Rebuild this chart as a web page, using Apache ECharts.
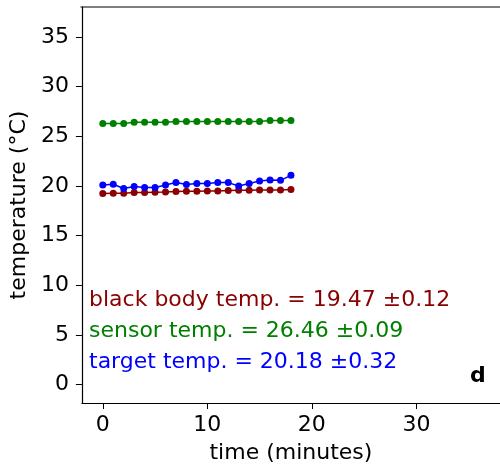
<!DOCTYPE html>
<html>
<head>
<meta charset="utf-8">
<script src="https://cdn.jsdelivr.net/npm/echarts@6/dist/echarts.min.js"></script>
<style>html,body{margin:0;padding:0;background:#fff}#c{width:500px;height:469px}</style>
</head>
<body>
<div id="c"></div>
<script>
var timeMinutes = [0,1,2,3,4,5,6,7,8,9,10,11,12,13,14,15,16,17,18];
var blackBodyTemp = [19.23,19.26,19.26,19.33,19.33,19.36,19.39,19.43,19.46,19.46,19.49,19.49,19.53,19.56,19.56,19.59,19.59,19.59,19.63];
var sensorTemp = [26.28,26.28,26.28,26.41,26.41,26.41,26.41,26.48,26.48,26.48,26.48,26.48,26.48,26.48,26.48,26.48,26.58,26.58,26.58];
var targetTemp = [20.09,20.16,19.73,19.93,19.83,19.83,20.09,20.33,20.13,20.23,20.23,20.33,20.33,19.99,20.23,20.49,20.59,20.56,21.06];
var xTicks = [0,10,20,30];
var yTicks = [0,5,10,15,20,25,30,35];
var annotations = [
  {text:'black body temp. = 19.47 ±0.12', color:'#8b0000'},
  {text:'sensor temp. = 26.46 ±0.09', color:'#008000'},
  {text:'target temp. = 20.18 ±0.32', color:'#0000ff'}
];

function pairs(ys){ return timeMinutes.map(function(t,i){return [t, ys[i]];}); }
var FONT = 'DejaVu Sans';
function mkSeries(name, ys, color){
  return {name:name, type:'line', data:pairs(ys), symbol:'circle', symbolSize:7,
    lineStyle:{color:color, width:1.5}, itemStyle:{color:color}, animation:false, z:3};
}
var chart = echarts.init(document.getElementById('c'), null, {renderer:'canvas'});
chart.setOption({
  animation:false,
  grid:{left:80.5, top:7, width:423, height:397, containLabel:false},
  xAxis:{type:'value', min:-2, max:38,
    name:'time (minutes)', nameLocation:'middle', nameGap:39,
    nameTextStyle:{fontFamily:FONT, fontSize:22, color:'#000'},
    axisLine:{show:true, onZero:false, lineStyle:{color:'#000', width:1.2}},
    axisTick:{show:true, length:6, inside:false, customValues:xTicks, lineStyle:{color:'#000'}},
    axisLabel:{customValues:xTicks, fontFamily:FONT, fontSize:22, color:'#000', margin:11},
    splitLine:{show:false}},
  yAxis:{type:'value', min:-1.85, max:38,
    name:'temperature (°C)', nameLocation:'middle', nameGap:48, nameRotate:90,
    nameTextStyle:{fontFamily:FONT, fontSize:22, color:'#000'},
    axisLine:{show:true, onZero:false, lineStyle:{color:'#000', width:1.2}},
    axisTick:{show:true, length:6, inside:false, customValues:yTicks, lineStyle:{color:'#000'}},
    axisLabel:{customValues:yTicks, fontFamily:FONT, fontSize:22, color:'#000', margin:13},
    splitLine:{show:false}},
  series:[
    mkSeries('black body', blackBodyTemp, '#8b0000'),
    mkSeries('sensor', sensorTemp, '#008000'),
    mkSeries('target', targetTemp, '#0000ff')
  ],
  graphic: [
    {type:'line', shape:{x1:80.5,y1:7,x2:503.5,y2:7}, style:{stroke:'#000', lineWidth:1.2}, silent:true}
  ].concat(annotations.map(function(a,i){
    return {type:'text', left:89, top:289 + i*31, style:{text:a.text, fill:a.color, font:'22px "DejaVu Sans"'}};
  })).concat([
    {type:'text', left:470, top:365, style:{text:'d', fill:'#000', font:'bold 22px "DejaVu Sans"'}}
  ])
});
</script>
</body>
</html>
